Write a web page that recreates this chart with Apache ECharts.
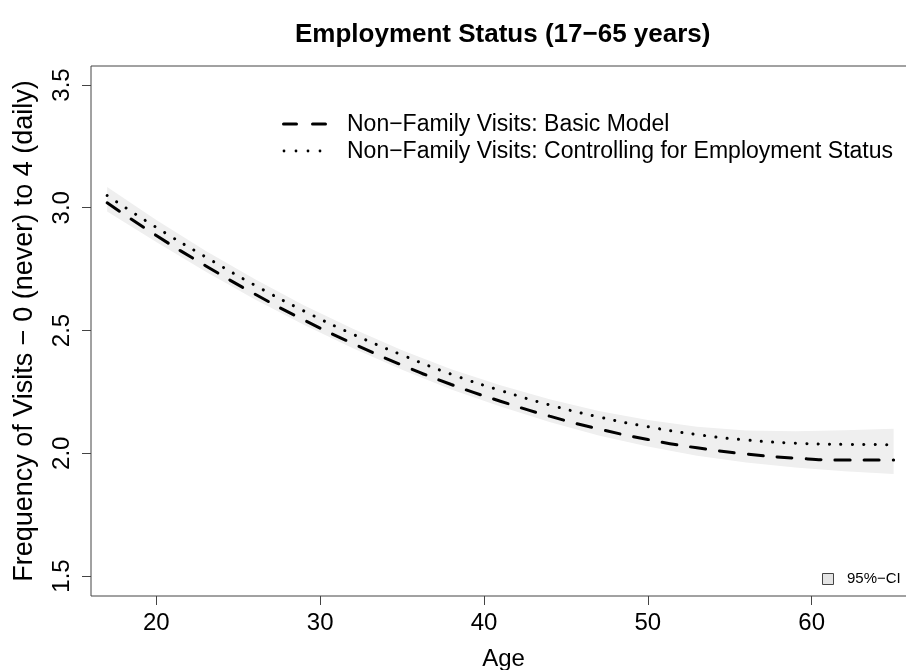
<!DOCTYPE html>
<html>
<head>
<meta charset="utf-8">
<script src="https://cdn.jsdelivr.net/npm/echarts@6/dist/echarts.min.js"></script>
<style>
  html, body { margin: 0; padding: 0; background: #fff; }
  #chart { width: 906px; height: 670px; }
</style>
</head>
<body>
<div id="chart"></div>
<script>
// Predicted visit frequency by age, with 95% confidence band
const ages = [17, 20, 23, 26, 29, 32, 35, 38, 41, 44, 47, 50, 53, 56, 59, 62, 65];
const basicModel = [3.02, 2.887, 2.764, 2.649, 2.543, 2.447, 2.359, 2.28, 2.212, 2.151, 2.099, 2.056, 2.022, 1.997, 1.98, 1.972, 1.972];
const employmentModel = [3.05, 2.92, 2.80, 2.685, 2.58, 2.485, 2.40, 2.322, 2.256, 2.197, 2.148, 2.108, 2.076, 2.054, 2.041, 2.036, 2.035];
const ciUpper = [3.085, 2.95, 2.825, 2.71, 2.603, 2.507, 2.42, 2.342, 2.277, 2.22, 2.172, 2.135, 2.108, 2.093, 2.09, 2.094, 2.10];
const ciLower = [2.985, 2.86, 2.74, 2.627, 2.523, 2.428, 2.34, 2.26, 2.19, 2.127, 2.072, 2.027, 1.99, 1.962, 1.942, 1.927, 1.915];
const xTicks = [20, 30, 40, 50, 60];
const yTicks = [1.5, 2.0, 2.5, 3.0, 3.5];

const seriesNames = [
  'Non\u2212Family Visits: Basic Model',
  'Non\u2212Family Visits: Controlling for Employment Status'
];
const titleText = 'Employment Status (17\u221265 years)';
const yName = 'Frequency of Visits \u2212 0 (never) to 4 (daily)';
const xName = 'Age';
const ciName = '95%\u2212CI';

const pairs = (ys) => ages.map((a, i) => [a, ys[i]]);

const FONT = '"Liberation Sans", Arial, Helvetica, sans-serif';
const AXIS = '#444';

const chart = echarts.init(document.getElementById('chart'), null, { renderer: 'canvas' });

// Confidence band as one polygon: upper edge left->right, lower edge right->left
function renderBand(params, api) {
  if (params.dataIndex !== 0) return null;
  const pts = [];
  for (let i = 0; i < ages.length; i++) pts.push(api.coord([ages[i], ciUpper[i]]));
  for (let i = ages.length - 1; i >= 0; i--) pts.push(api.coord([ages[i], ciLower[i]]));
  return {
    type: 'polygon',
    shape: { points: pts },
    style: { fill: '#efefef', stroke: null }
  };
}

chart.setOption({
  animation: false,
  backgroundColor: '#fff',
  textStyle: { fontFamily: FONT },
  title: {
    text: titleText,
    left: 290,
    top: 17,
    textStyle: { fontFamily: FONT, fontWeight: 'bold', fontSize: 26, color: '#000' }
  },
  grid: {
    left: 91, top: 66, right: -10, bottom: 74,
    outerBoundsMode: 'none', containLabel: false,
    show: true, borderColor: AXIS, borderWidth: 1, backgroundColor: 'transparent'
  },
  xAxis: {
    type: 'value',
    min: 16.015, max: 66.365,
    name: xName, nameLocation: 'middle', nameGap: 51,
    nameTextStyle: { fontFamily: FONT, fontSize: 24, color: '#000' },
    axisLine: { show: false },
    splitLine: { show: false },
    axisTick: { show: true, length: 9, customValues: xTicks, lineStyle: { color: AXIS } },
    axisLabel: { customValues: xTicks, margin: 15, fontFamily: FONT, fontSize: 24, color: '#000' }
  },
  yAxis: {
    type: 'value',
    min: 1.4185, max: 3.5774,
    name: yName, nameLocation: 'middle', nameGap: 53, nameRotate: 90,
    nameTextStyle: { fontFamily: FONT, fontSize: 27, color: '#000' },
    axisLine: { show: false },
    splitLine: { show: false },
    axisTick: { show: true, length: 9, customValues: yTicks, lineStyle: { color: AXIS } },
    axisLabel: {
      customValues: yTicks, rotate: 90, margin: 17,
      fontFamily: FONT, fontSize: 24, color: '#000',
      formatter: (v) => v.toFixed(1)
    }
  },
  series: [
    {
      name: '95% CI', type: 'custom', data: pairs(ciUpper),
      renderItem: renderBand, silent: true, z: 1, clip: true
    },
    {
      name: seriesNames[0], type: 'line', data: pairs(basicModel),
      symbol: 'none', smooth: true, z: 3,
      lineStyle: { color: '#000', width: 3, type: [15, 14], cap: 'round' }
    },
    {
      name: seriesNames[1], type: 'line', data: pairs(employmentModel),
      symbol: 'none', smooth: true, z: 3,
      lineStyle: { color: '#000', width: 3, type: [0.1, 11.3], cap: 'round' }
    }
  ],
  graphic: [
    // legend: line samples and labels
    { type: 'line', z: 10, shape: { x1: 283.5, y1: 124, x2: 326, y2: 124 },
      style: { stroke: '#000', lineWidth: 3, lineDash: [13, 16], lineCap: 'round' } },
    { type: 'circle', z: 10, shape: { cx: 284, cy: 151, r: 1.4 }, style: { fill: '#000' } },
    { type: 'circle', z: 10, shape: { cx: 296, cy: 151, r: 1.4 }, style: { fill: '#000' } },
    { type: 'circle', z: 10, shape: { cx: 308, cy: 151, r: 1.4 }, style: { fill: '#000' } },
    { type: 'circle', z: 10, shape: { cx: 320, cy: 151, r: 1.4 }, style: { fill: '#000' } },
    { type: 'text', z: 10, left: 347, top: 113,
      style: { text: seriesNames[0], font: '23px ' + FONT, fill: '#000' } },
    { type: 'text', z: 10, left: 347, top: 140,
      style: { text: seriesNames[1], font: '23px ' + FONT, fill: '#000' } },
    // confidence band key
    { type: 'rect', z: 10, shape: { x: 822.5, y: 573.5, width: 11, height: 11 },
      style: { fill: '#e4e4e4', stroke: '#444', lineWidth: 1 } },
    { type: 'text', z: 10, left: 847, top: 571,
      style: { text: ciName, font: '15px ' + FONT, fill: '#000' } }
  ]
});
</script>
</body>
</html>
